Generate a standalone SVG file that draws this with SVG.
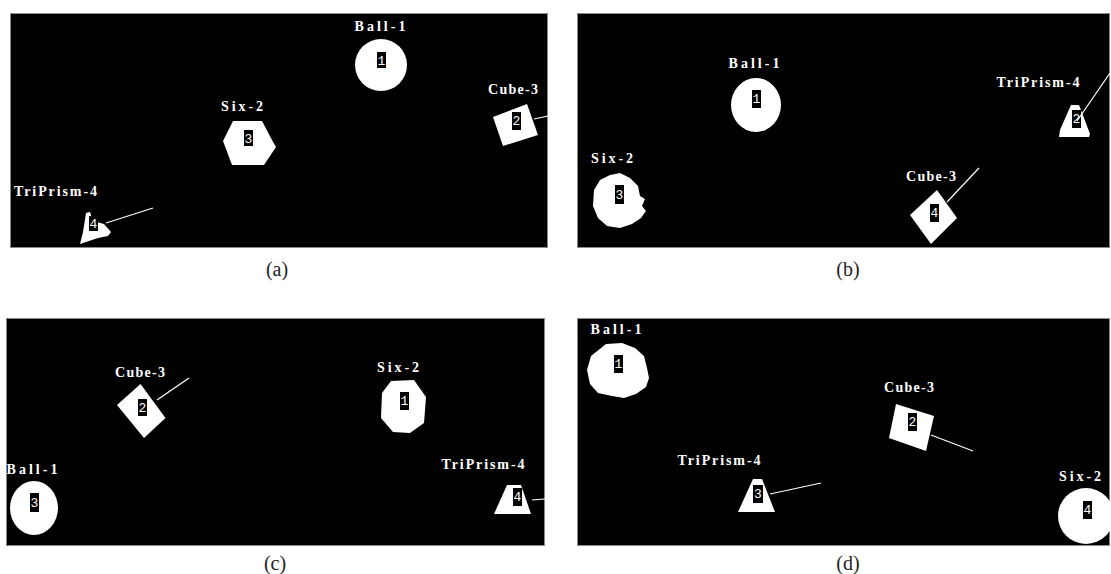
<svg xmlns="http://www.w3.org/2000/svg" width="1111" height="574" viewBox="0 0 1111 574">
<style>
.panel{fill:#000;stroke:#8a8a8a;stroke-width:1}
.obj{fill:#fff}
.lbl{fill:#fff;font-family:"Liberation Serif",serif;font-weight:bold;font-size:14px;text-anchor:middle}
.lblL{fill:#fff;font-family:"Liberation Serif",serif;font-weight:bold;font-size:14px}
.idbox{fill:#000}
.id{fill:#fff;font-family:"Liberation Mono",monospace;font-size:13px;text-anchor:middle}
.dir{stroke:#fff;stroke-width:1.2;fill:none}
.cap{fill:#222;font-family:"Liberation Serif",serif;font-size:20px;text-anchor:middle}
</style>
<defs>
<clipPath id="cpA"><rect x="10" y="13" width="538" height="235"/></clipPath>
<clipPath id="cpB"><rect x="577" y="13" width="533" height="235"/></clipPath>
<clipPath id="cpC"><rect x="6" y="318" width="539" height="228"/></clipPath>
<clipPath id="cpD"><rect x="577" y="318" width="533" height="228"/></clipPath>
</defs>

<!-- Panel (a) -->
<g id="panel-a">
<rect class="panel" x="10.5" y="13.5" width="537" height="234"/>
<g clip-path="url(#cpA)">
<g id="a-ball1">
<text class="lbl" x="380" y="31" textLength="51" lengthAdjust="spacing">Ball-1</text>
<ellipse class="obj" cx="381" cy="65" rx="26" ry="26"/>
<rect class="idbox" x="377" y="52" width="9" height="16"/>
<text class="id" x="381.5" y="65">1</text>
</g>
<g id="a-six2">
<text class="lbl" x="242" y="111" textLength="42" lengthAdjust="spacing">Six-2</text>
<polygon class="obj" points="233,121 262,121 272,140 276,147 264,165 232,165 223,141"/>
<rect class="idbox" x="244" y="130" width="9" height="16"/>
<text class="id" x="248.5" y="143">3</text>
</g>
<g id="a-cube3">
<text class="lbl" x="513" y="94" textLength="50" lengthAdjust="spacing">Cube-3</text>
<polygon class="obj" points="493,117 527,104 538,135 503,146"/>
<rect class="idbox" x="512" y="112" width="9" height="18"/>
<text class="id" x="516.5" y="125">2</text>
</g>
<g id="a-triprism4">
<text class="lblL" x="14" y="196" textLength="83" lengthAdjust="spacing">TriPrism-4</text>
<polygon class="obj" points="86,213 90,212 93,221 104,224 111,232 108,236 98,238 80,244 83,232"/>
<rect class="idbox" x="89" y="216" width="9" height="15"/>
<text class="id" x="93.5" y="228">4</text>
</g>
</g>
</g>

<!-- Panel (b) -->
<g id="panel-b">
<rect class="panel" x="577.5" y="13.5" width="532" height="234"/>
<g clip-path="url(#cpB)">
<g id="b-ball1">
<text class="lbl" x="754" y="68" textLength="51" lengthAdjust="spacing">Ball-1</text>
<ellipse class="obj" cx="756" cy="105" rx="25" ry="27"/>
<rect class="idbox" x="752" y="90" width="9" height="18"/>
<text class="id" x="756.5" y="103">1</text>
</g>
<g id="b-triprism4">
<text class="lbl" x="1038" y="87" textLength="83" lengthAdjust="spacing">TriPrism-4</text>
<polygon class="obj" points="1071,105 1079,105 1084,118 1090,134 1089,137 1059,137 1060,130 1067,114"/>
<rect class="idbox" x="1072" y="110" width="9" height="18"/>
<text class="id" x="1076.5" y="123">2</text>
</g>
<g id="b-six2">
<text class="lbl" x="612" y="163" textLength="42" lengthAdjust="spacing">Six-2</text>
<path class="obj" d="M610,175 L620,173 L630,178 L638,186 L640,196 L645,199 L642,206 L646,211 L641,218 L632,224 L620,228 L607,226 L598,218 L593,206 L594,190 L600,180 Z"/>
<rect class="idbox" x="615" y="185" width="9" height="19"/>
<text class="id" x="619.5" y="199">3</text>
</g>
<g id="b-cube3">
<text class="lbl" x="931" y="181" textLength="50" lengthAdjust="spacing">Cube-3</text>
<polygon class="obj" points="937,190 957,218 931,244 910,215"/>
<rect class="idbox" x="930" y="204" width="9" height="18"/>
<text class="id" x="934.5" y="217">4</text>
</g>
</g>
</g>

<!-- Panel (c) -->
<g id="panel-c">
<rect class="panel" x="6.5" y="318.5" width="538" height="227"/>
<g clip-path="url(#cpC)">
<g id="c-cube3">
<text class="lbl" x="140" y="377" textLength="50" lengthAdjust="spacing">Cube-3</text>
<polygon class="obj" points="140.5,384 165.5,418 144,438 117,405"/>
<rect class="idbox" x="138" y="399" width="9" height="17"/>
<text class="id" x="142.5" y="412">2</text>
</g>
<g id="c-six2">
<text class="lbl" x="398" y="372" textLength="42" lengthAdjust="spacing">Six-2</text>
<polygon class="obj" points="391,381 414,380 426,397 424,423 410,433 393,432 381,418 382,393"/>
<rect class="idbox" x="400" y="392" width="9" height="18"/>
<text class="id" x="404.5" y="405">1</text>
</g>
<g id="c-ball1">
<text class="lbl" x="32" y="474" textLength="51" lengthAdjust="spacing">Ball-1</text>
<ellipse class="obj" cx="34" cy="508" rx="24" ry="27"/>
<rect class="idbox" x="30" y="493" width="9" height="19"/>
<text class="id" x="34.5" y="507">3</text>
</g>
<g id="c-triprism4">
<text class="lbl" x="483" y="469" textLength="83" lengthAdjust="spacing">TriPrism-4</text>
<polygon class="obj" points="507,485 521,485 531,514 494,514"/>
<rect class="idbox" x="513" y="488" width="9" height="18"/>
<text class="id" x="517.5" y="501">4</text>
</g>
</g>
</g>

<!-- Panel (d) -->
<g id="panel-d">
<rect class="panel" x="577.5" y="318.5" width="532" height="227"/>
<g clip-path="url(#cpD)">
<g id="d-ball1">
<text class="lbl" x="616" y="334" textLength="51" lengthAdjust="spacing">Ball-1</text>
<path class="obj" d="M606,344 L622,343 L635,348 L644,356 L647,368 L649,378 L646,387 L636,394 L624,398 L612,396 L598,393 L590,384 L587,370 L591,356 Z"/>
<rect class="idbox" x="614" y="355" width="9" height="18"/>
<text class="id" x="618.5" y="368">1</text>
</g>
<g id="d-cube3">
<text class="lbl" x="909" y="392" textLength="50" lengthAdjust="spacing">Cube-3</text>
<polygon class="obj" points="896,404 934,416 926,451 889,438"/>
<rect class="idbox" x="908" y="413" width="9" height="18"/>
<text class="id" x="912.5" y="426">2</text>
</g>
<g id="d-triprism4">
<text class="lbl" x="719" y="465" textLength="83" lengthAdjust="spacing">TriPrism-4</text>
<polygon class="obj" points="753,479 762,479 775,512 738,512"/>
<rect class="idbox" x="753" y="485" width="10" height="18"/>
<text class="id" x="758" y="498">3</text>
</g>
<g id="d-six2">
<text class="lbl" x="1080" y="481" textLength="42" lengthAdjust="spacing">Six-2</text>
<ellipse class="obj" cx="1086" cy="516" rx="28" ry="28"/>
<rect class="idbox" x="1083" y="501" width="9" height="18"/>
<text class="id" x="1087.5" y="514">4</text>
</g>
</g>
</g>

<!-- direction indicator lines -->
<g id="connectors">
<line class="dir" x1="534" y1="119" x2="548" y2="116"/>
<line class="dir" x1="106" y1="223" x2="153" y2="208"/>
<line class="dir" x1="1077" y1="121" x2="1110" y2="73"/>
<line class="dir" x1="947" y1="202" x2="979" y2="168"/>
<line class="dir" x1="157" y1="400" x2="189" y2="378"/>
<line class="dir" x1="532" y1="500" x2="545" y2="499"/>
<line class="dir" x1="931" y1="435" x2="973" y2="451"/>
<line class="dir" x1="770" y1="494" x2="821" y2="483"/>
</g>

<!-- captions -->
<text class="cap" x="277" y="276">(a)</text>
<text class="cap" x="848" y="276">(b)</text>
<text class="cap" x="275" y="570">(c)</text>
<text class="cap" x="848" y="570">(d)</text>
</svg>
